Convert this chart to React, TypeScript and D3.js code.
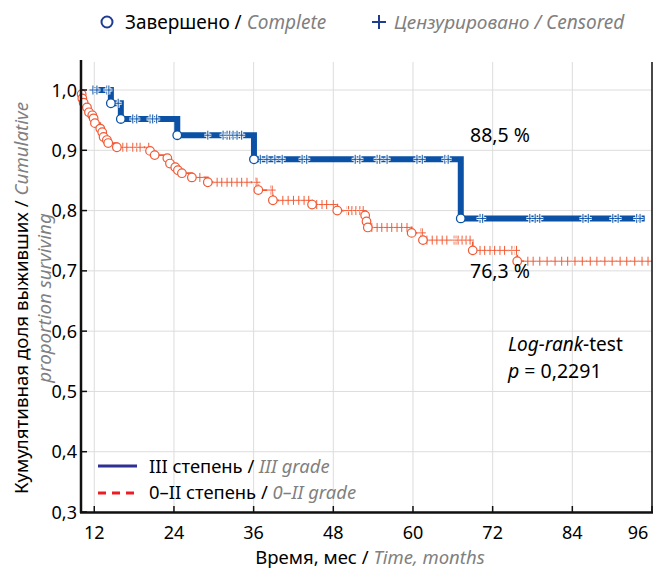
import React from 'react';
import * as d3 from 'd3';

// III степень (blue): event times (months) and survival after each event
const blueStart = 11.7;
const blueEnd = 94.9;
const blueTimes = [14.5, 16.0, 24.5, 36.05, 67.2];
const blueSurv = [0.978, 0.952, 0.925, 0.885, 0.787];
const blueCensored = [11.8, 12.4, 13.9, 14.2, 15.6, 17.8, 18.4, 20.4, 20.8, 21.4, 29.1, 31.4, 32.0, 32.4, 32.9, 33.5, 34.2,
  37.0, 38.0, 39.2, 40.3, 43.3, 44.0, 51.3, 52.0, 54.6, 55.0, 56.1, 60.6, 61.4, 64.8, 65.3,
  70.1, 70.5, 77.6, 78.4, 79.1, 85.6, 86.4, 90.1, 90.9, 93.7, 94.2];

// 0–II степень (red)
const redStart = 10;
const redEnd = 96;
const redTimes = [10.1, 10.2, 10.4, 10.9, 11.2, 11.7, 11.9, 12.1, 12.9, 13.2, 13.4, 13.9, 14.1, 15.4, 20.4, 21.1, 23.0, 23.4,
  24.2, 24.6, 25.2, 26.7, 29.1, 36.7, 38.9, 44.8, 48.6, 52.8, 53.0, 53.2, 59.8, 61.5, 69.0, 75.7];
const redSurv = [0.993, 0.986, 0.979, 0.971, 0.963, 0.958, 0.953, 0.945, 0.936, 0.930, 0.922, 0.917, 0.912, 0.905, 0.899, 0.892,
  0.887, 0.878, 0.872, 0.867, 0.862, 0.855, 0.847, 0.834, 0.817, 0.810, 0.800, 0.792, 0.782, 0.772, 0.763, 0.751, 0.734, 0.716];
const redCensored = [16.3, 16.9, 17.8, 18.4, 18.9, 20.2, 27.9, 30.5, 31.2, 32.0, 32.7, 33.5, 34.2, 35.0, 36.3, 36.5, 38.6, 38.8,
  40.4, 41.2, 42.0, 42.8, 43.6, 44.3, 45.5, 46.3, 47.0, 48.0, 50.1, 50.3, 50.8, 51.4, 52.0, 52.5,
  53.8, 54.6, 55.3, 56.1, 56.8, 57.6, 58.3, 59.1, 61.2, 61.4, 62.1, 62.9, 63.6, 64.4, 65.1,
  66.2, 66.5, 66.8, 67.4, 68.0, 68.6, 70.1, 70.8, 71.6, 72.3, 73.1, 73.8, 74.9, 75.4, 75.6,
  77.3, 78.1, 79.1, 80.2, 81.4, 82.4, 83.3, 84.4, 85.5, 86.7, 87.7, 88.9, 90.0, 91.2, 92.2, 93.4, 94.5, 95.4];

const xTicks = [12, 24, 36, 48, 60, 72, 84, 96];
const yTicks = [0.3, 0.4, 0.5, 0.6, 0.7, 0.8, 0.9, 1.0];

const BLUE = '#0b52a6';
const RED = '#f15a35';
const GREY = '#808080';
const FONT = '"Noto Sans", sans-serif';

const x = d3.scaleLinear().domain([10, 96]).range([81, 652]);
const y = d3.scaleLinear().domain([0.3, 1.0]).range([512, 90]);

// survival value at time t
const survAt = (times: number[], surv: number[], t: number) => {
  let v = 1;
  times.forEach((tt, i) => { if (tt <= t) v = surv[i]; });
  return v;
};

const stepPoints = (start: number, end: number, times: number[], surv: number[]) => {
  const pts: [number, number][] = [[start, 1]];
  times.forEach((t, i) => pts.push([t, surv[i]]));
  pts.push([end, surv[surv.length - 1]]);
  return pts;
};

const line = d3.line<[number, number]>()
  .x(d => x(d[0]))
  .y(d => y(d[1]))
  .curve(d3.curveStepAfter);

const Censor = ({ cx, cy, color }: { cx: number; cy: number; color: string }) => {
  const d = `M${cx},${cy - 4.5}V${cy + 4.5}M${cx - 3.5},${cy}H${cx + 3.5}`;
  return (
    <g>
      <path d={d} stroke="#fff" strokeWidth={3} fill="none" />
      <path d={d} stroke={color} strokeWidth={1} fill="none" />
    </g>
  );
};

const App = () => {
  const bluePts = stepPoints(blueStart, blueEnd, blueTimes, blueSurv);
  const redPts = stepPoints(redStart, redEnd, redTimes, redSurv);
  const top = 62;

  return (
    <svg width={653} height={570} style={{ position: 'absolute', left: 0, top: 0, fontFamily: FONT }}>
      <rect width={653} height={570} fill="#fff" />

      {/* grid */}
      {xTicks.map(t => (
        <line key={'gx' + t} x1={x(t)} x2={x(t)} y1={top} y2={y(0.3)} stroke="#dcdcdc" />
      ))}
      {yTicks.map(t => (
        <line key={'gy' + t} x1={x(10)} x2={652} y1={y(t)} y2={y(t)} stroke="#dcdcdc" />
      ))}

      {/* red curve */}
      <path d={line(redPts) || ''} fill="none" stroke={RED} strokeWidth={1.8} />
      {redCensored.map((t, i) => (
        <Censor key={'rc' + i} cx={x(t)} cy={y(survAt(redTimes, redSurv, t))} color={RED} />
      ))}
      {redTimes.map((t, i) => (
        <circle key={'re' + i} cx={x(t)} cy={y(redSurv[i])} r={4.3} fill="#fff" stroke={RED} strokeWidth={1.2} />
      ))}

      {/* blue curve */}
      <path d={line(bluePts) || ''} fill="none" stroke={BLUE} strokeWidth={6} />
      {blueCensored.map((t, i) => (
        <Censor key={'bc' + i} cx={x(t)} cy={y(survAt(blueTimes, blueSurv, t))} color={BLUE} />
      ))}
      {blueTimes.map((t, i) => (
        <circle key={'be' + i} cx={x(t)} cy={y(blueSurv[i])} r={4.3} fill="#fff" stroke={BLUE} strokeWidth={1.3} />
      ))}

      {/* axes */}
      <line x1={81} x2={81} y1={top - 2} y2={513} stroke="#111" strokeWidth={2.5} />
      <line x1={80} x2={653} y1={512.5} y2={512.5} stroke="#111" strokeWidth={2.5} />
      <line x1={652} x2={652} y1={top} y2={513} stroke="#111" strokeWidth={1.5} />
      {yTicks.map(t => (
        <g key={'yt' + t}>
          <line x1={81} x2={87} y1={y(t)} y2={y(t)} stroke="#111" strokeWidth={1.5} />
          <text x={77} y={y(t) + 6.5} textAnchor="end" fontSize={18}>{t.toFixed(1).replace('.', ',')}</text>
        </g>
      ))}
      {xTicks.map(t => (
        <g key={'xt' + t}>
          <line x1={x(t)} x2={x(t)} y1={512} y2={506} stroke="#111" strokeWidth={1.5} />
          <text x={t === 96 ? x(t) - 14 : x(t)} y={539} textAnchor="middle" fontSize={18}>{t}</text>
        </g>
      ))}

      {/* axis titles */}
      <text x={370} y={564} textAnchor="middle" fontSize={18.5}>
        Время, мес / <tspan fill={GREY} fontStyle="italic">Time, months</tspan>
      </text>
      <text transform="translate(28,298) rotate(-90)" textAnchor="middle" fontSize={18.7}>
        Кумулятивная доля выживших / <tspan fill={GREY} fontStyle="italic">Cumulative</tspan>
      </text>
      <text transform="translate(51,298) rotate(-90)" textAnchor="middle" fontSize={18.7} fill={GREY} fontStyle="italic">
        proportion surviving
      </text>

      {/* top legend */}
      <circle cx={107} cy={22} r={5.5} fill="#fff" stroke="#1f3c93" strokeWidth={2} />
      <text x={125} y={29} fontSize={19}>
        Завершено / <tspan fill={GREY} fontStyle="italic">Complete</tspan>
      </text>
      <path d="M372,22H386M379,15V29" stroke="#1f3c93" strokeWidth={2} />
      <text x={394} y={29} fontSize={19} fill={GREY} fontStyle="italic">Цензурировано / Censored</text>

      {/* bottom legend */}
      <line x1={98} x2={137} y1={466} y2={466} stroke="#2e3192" strokeWidth={3} />
      <text x={149} y={472.5} fontSize={18.4}>
        III степень / <tspan fill={GREY} fontStyle="italic">III grade</tspan>
      </text>
      <line x1={98} x2={137} y1={493} y2={493} stroke="#ed1c24" strokeWidth={3} strokeDasharray="8,6" />
      <text x={149} y={499} fontSize={18.4}>
        0–II степень / <tspan fill={GREY} fontStyle="italic">0–II grade</tspan>
      </text>

      {/* annotations */}
      <text x={470} y={142} fontSize={19.5}>88,5 %</text>
      <text x={470} y={278} fontSize={19.5}>76,3 %</text>
      <text x={508} y={351} fontSize={19}>
        <tspan fontStyle="italic">Log-rank</tspan>-test
      </text>
      <text x={508} y={378} fontSize={19.5}>
        <tspan fontStyle="italic">p</tspan> = 0,2291
      </text>
    </svg>
  );
};

export default App;
